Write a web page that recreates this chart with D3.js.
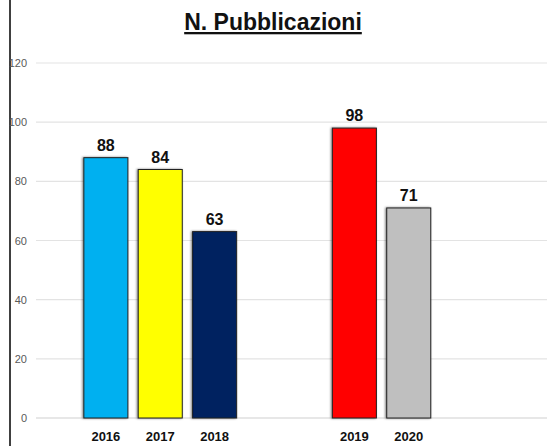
<!DOCTYPE html>
<meta charset="utf-8">
<style>
    body { margin: 0; background: #fff; }
    text { font-family: "Liberation Sans", Arial, sans-serif; }
</style>
<svg width="547" height="446"></svg>
<script src="https://d3js.org/d3.v7.min.js"></script>
<script>

    var years = ["2016", "2017", "2018", "2019", "2020"];
    var counts = [88, 84, 63, 98, 71];
    var groups = ["A", "A", "A", "B", "B"];
    var slots = [0, 1, 2, 0, 1];
    var colors = ["#00B0F0", "#FFFF00", "#002060", "#FF0000", "#BFBFBF"];
    var yTicks = [0, 20, 40, 60, 80, 100, 120];

    var svg = d3.select("svg"),
        width = +svg.attr("width"),
        height = +svg.attr("height");

    var margin = { left: 36, right: 14, top: 63, bottom: 28 };

    var y = d3.scaleLinear()
        .domain([0, 120])
        .range([418, 63]);

    var x0 = d3.scaleBand()
        .domain(["A", "B"])
        .range([margin.left, width - margin.right]);

    var x1 = d3.scaleBand()
        .domain([0, 1, 2])
        .range([0, x0.bandwidth()])
        .paddingInner(0.19)
        .paddingOuter(0.88);

    var defs = svg.append("defs");
    var f = defs.append("filter").attr("id", "shadow")
        .attr("x", "-20%").attr("y", "-10%").attr("width", "140%").attr("height", "120%");
    f.append("feDropShadow")
        .attr("dx", -1).attr("dy", 0).attr("stdDeviation", 1.2)
        .attr("flood-color", "#000").attr("flood-opacity", 0.5);

    // left border
    svg.append("line")
        .attr("x1", 10).attr("x2", 10)
        .attr("y1", 0).attr("y2", height)
        .attr("stroke", "#000").attr("stroke-width", 1.5);

    // title
    svg.append("text")
        .attr("x", 273).attr("y", 30)
        .attr("text-anchor", "middle")
        .attr("font-size", 23)
        .attr("font-weight", "bold")
        .attr("text-decoration", "underline")
        .attr("fill", "#111")
        .text("N. Pubblicazioni");

    // grid
    svg.append("g").selectAll("line")
        .data(yTicks)
        .enter().append("line")
        .attr("x1", margin.left).attr("x2", width)
        .attr("y1", d => y(d)).attr("y2", d => y(d))
        .attr("stroke", d => d === 0 ? "#d0d0d0" : "#e3e3e3")
        .attr("stroke-width", 1.2);

    svg.append("g").selectAll("text")
        .data(yTicks)
        .enter().append("text")
        .attr("x", 27)
        .attr("y", d => y(d) + 4)
        .attr("text-anchor", "end")
        .attr("font-size", 11)
        .attr("fill", "#595959")
        .text(d => d);

    var idx = d3.range(years.length);
    var bx = i => x0(groups[i]) + x1(slots[i]);

    svg.append("g").selectAll("rect")
        .data(idx)
        .enter().append("rect")
        .attr("x", i => bx(i))
        .attr("y", i => y(counts[i]))
        .attr("width", x1.bandwidth())
        .attr("height", i => y(0) - y(counts[i]))
        .attr("fill", i => colors[i])
        .attr("stroke", "#222")
        .attr("stroke-width", 1)
        .attr("filter", "url(#shadow)");

    svg.append("g").selectAll("text")
        .data(idx)
        .enter().append("text")
        .attr("x", i => bx(i) + x1.bandwidth() / 2)
        .attr("y", i => y(counts[i]) - 7)
        .attr("text-anchor", "middle")
        .attr("font-size", 16)
        .attr("font-weight", "bold")
        .attr("fill", "#111")
        .text(i => counts[i]);

    svg.append("g").selectAll("text")
        .data(idx)
        .enter().append("text")
        .attr("x", i => bx(i) + x1.bandwidth() / 2)
        .attr("y", 441)
        .attr("text-anchor", "middle")
        .attr("font-size", 13)
        .attr("font-weight", "bold")
        .attr("fill", "#111")
        .text(i => years[i]);

</script>
